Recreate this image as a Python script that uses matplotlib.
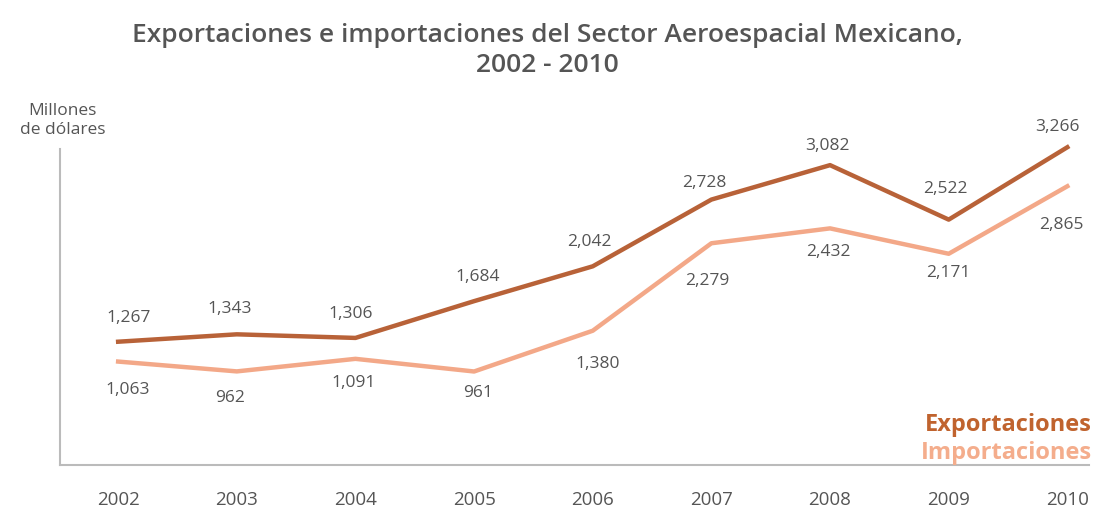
import matplotlib.pyplot as plt

plt.rcParams['font.family'] = ['Open Sans', 'DejaVu Sans']

years = [2002, 2003, 2004, 2005, 2006, 2007, 2008, 2009, 2010]
exportaciones = [1267, 1343, 1306, 1684, 2042, 2728, 3082, 2522, 3266]
importaciones = [1063, 962, 1091, 961, 1380, 2279, 2432, 2171, 2865]

exp_color = '#b86238'
imp_color = '#f3a888'
text_color = '#555555'

fig = plt.figure(figsize=(10.95, 5.1), dpi=100)
ax = fig.add_axes([0.0548, 0.0863, 0.94, 0.62])

ax.plot(years, exportaciones, color=exp_color, lw=3.2, clip_on=False)
ax.plot(years, importaciones, color=imp_color, lw=3.2, clip_on=False)

# label offsets in pixels
exp_off = [(10, 25), (-7, 26), (-5, 25), (4, 25), (-3, 25), (-7, 18), (-3, 20), (-3, 32), (-10, 21)]
imp_off = [(10, -27), (-7, -26), (-2, -23), (4, -21), (5, -32), (-4, -37), (-2, -23), (0, -18), (-6, -38)]

for x, y, o in zip(years, exportaciones, exp_off):
    ax.annotate(f'{y:,}', (x, y), xytext=o, textcoords='offset pixels', annotation_clip=False,
                ha='center', va='center', fontsize=12.5, color=text_color)
for x, y, o in zip(years, importaciones, imp_off):
    ax.annotate(f'{y:,}', (x, y), xytext=o, textcoords='offset pixels', annotation_clip=False,
                ha='center', va='center', fontsize=12.5, color=text_color)

ax.set_xlim(2001.51, 2010.185)
ax.set_ylim(0, 3250)
for s in ['top', 'right']:
    ax.spines[s].set_visible(False)
for s in ['left', 'bottom']:
    ax.spines[s].set_color('#bbbbbb')
    ax.spines[s].set_linewidth(1.5)
ax.set_yticks([])
ax.set_xticks(years)
ax.tick_params(axis='x', length=0, pad=18, labelsize=13.5, labelcolor=text_color)

fig.text(0.5, 0.93, 'Exportaciones e importaciones del Sector Aeroespacial Mexicano,',
         ha='center', va='center', fontsize=19, fontweight='semibold', color=text_color)
fig.text(0.5, 0.872, '2002 - 2010',
         ha='center', va='center', fontsize=19, fontweight='semibold', color=text_color)
fig.text(0.057, 0.782, 'Millones', ha='center', va='center', fontsize=12.5, color=text_color)
fig.text(0.057, 0.745, 'de dólares', ha='center', va='center', fontsize=12.5, color=text_color)

fig.text(0.997, 0.166, 'Exportaciones', ha='right', va='center', fontsize=17,
         fontweight='bold', color='#c0632e')
fig.text(0.997, 0.112, 'Importaciones', ha='right', va='center', fontsize=17,
         fontweight='bold', color='#f4ad8c')

plt.savefig('out.png', dpi=100)
